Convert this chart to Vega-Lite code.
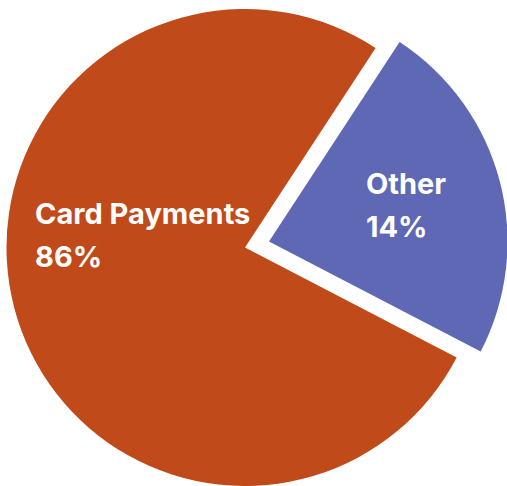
{
  "$schema": "https://vega.github.io/schema/vega-lite/v6.json",
  "autosize": {"type": "none"},
  "padding": {"left": 0, "top": 9, "right": 17, "bottom": 0},
  "width": 490,
  "height": 477,
  "background": "white",
  "view": {"stroke": null},
  "data": {
    "values": [
      {"category": "Other", "arc_share": 23.4, "label": "Other\n14%"},
      {"category": "Card Payments", "arc_share": 76.6, "label": "Card Payments\n86%"}
    ]
  },
  "encoding": {
    "theta": {
      "field": "arc_share",
      "type": "quantitative",
      "stack": true,
      "scale": {"range": [0.5795, 6.8627]}
    },
    "order": {"field": "arc_share", "type": "quantitative", "sort": "ascending"}
  },
  "layer": [
    {
      "mark": {"type": "arc", "outerRadius": 238.5, "fill": "#C14A1A"},
      "encoding": {
        "opacity": {"condition": {"test": "datum.category === 'Other'", "value": 0}, "value": 1}
      }
    },
    {
      "mark": {"type": "arc", "outerRadius": 238.5, "fill": "#5E68B4", "xOffset": 24, "yOffset": -6},
      "encoding": {
        "opacity": {"condition": {"test": "datum.category === 'Other'", "value": 1}, "value": 0}
      }
    },
    {
      "mark": {"type": "text", "radius": 217, "align": "left", "baseline": "alphabetic", "dy": -78, "lineBreak": "\n", "lineHeight": 43, "font": "Inter", "fontWeight": "bold", "fontSize": 29, "fill": "white"},
      "encoding": {
        "text": {"condition": {"test": "datum.category === 'Card Payments'", "field": "label"}, "value": ""}
      }
    },
    {
      "mark": {"type": "text", "radius": 125, "align": "left", "baseline": "alphabetic", "dy": -22, "lineBreak": "\n", "lineHeight": 43, "font": "Inter", "fontWeight": "bold", "fontSize": 29, "fill": "white"},
      "encoding": {
        "text": {"condition": {"test": "datum.category === 'Other'", "field": "label"}, "value": ""}
      }
    }
  ]
}
